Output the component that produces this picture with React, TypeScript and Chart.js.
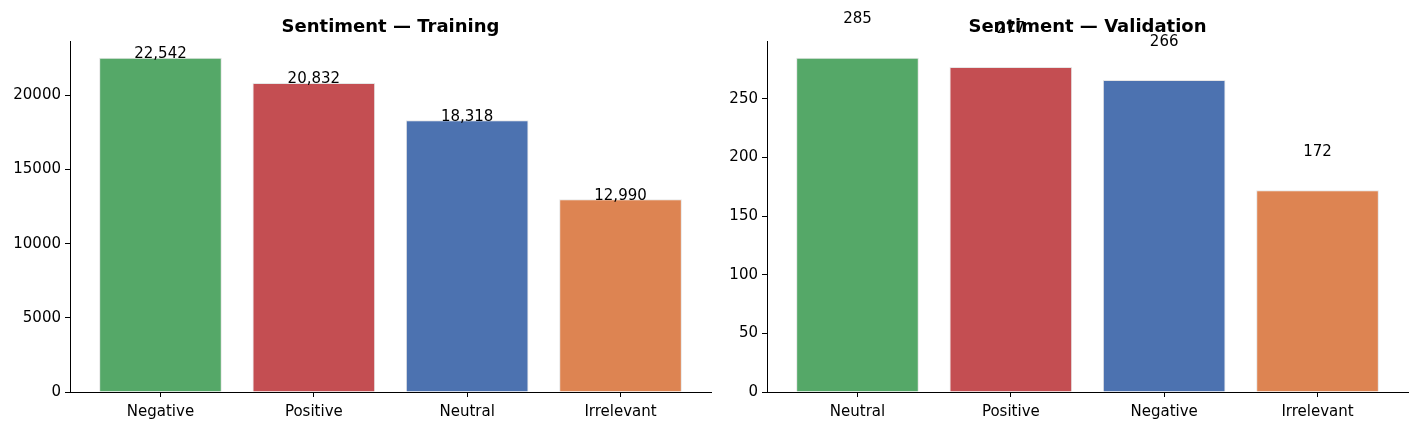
import React, { useEffect, useRef } from "react";
import { Chart, registerables } from "chart.js";

Chart.register(...registerables);

const trainCategories = ["Negative", "Positive", "Neutral", "Irrelevant"];
const trainValues = [22542, 20832, 18318, 12990];
const trainColors = ["#55A868", "#C44E52", "#4C72B0", "#DD8452"];
const trainYTicks = [0, 5000, 10000, 15000, 20000];

const valCategories = ["Neutral", "Positive", "Negative", "Irrelevant"];
const valValues = [285, 277, 266, 172];
const valColors = ["#55A868", "#C44E52", "#4C72B0", "#DD8452"];
const valYTicks = [0, 50, 100, 150, 200, 250];

const FONT = "'DejaVu Sans', sans-serif";

type PanelProps = {
  left: number;
  width: number;
  axisWidth: number;
  padRight: number;
  title: string;
  cats: string[];
  vals: number[];
  colors: string[];
  yMax: number;
  yTicks: number[];
  labelOffset: number;
  fmt: (v: number) => string;
};

function Panel(p: PanelProps) {
  const ref = useRef<HTMLCanvasElement | null>(null);
  useEffect(() => {
    if (!ref.current) return;
    const labelPlugin = {
      id: "labels",
      afterDraw(chart: any) {
        const ctx = chart.ctx;
        const xs = chart.scales.x;
        const ys = chart.scales.y;
        const ca = chart.chartArea;
        ctx.save();
        ctx.fillStyle = "#000";
        ctx.textAlign = "center";
        ctx.textBaseline = "alphabetic";
        ctx.font = `15px ${FONT}`;
        p.vals.forEach((v, i) => {
          const x = xs.getPixelForValue(i);
          const y = ys.getPixelForValue(v + p.labelOffset);
          ctx.fillText(p.fmt(v), x, y + 5.5);
        });
        ctx.font = `bold 18px ${FONT}`;
        ctx.fillText(p.title, (ca.left + ca.right) / 2, 32);
        ctx.restore();
      },
    };
    const chart = new Chart(ref.current, {
      type: "bar",
      data: {
        labels: p.cats,
        datasets: [
          {
            data: p.vals.map((v, i) => ({ x: i, y: v })) as any,
            backgroundColor: p.colors,
            borderColor: "#e6e6e6",
            borderWidth: 1,
            barPercentage: 0.8,
            categoryPercentage: 1,
          },
        ],
      },
      options: {
        responsive: false,
        maintainAspectRatio: false,
        animation: false,
        layout: { padding: { top: 41, right: p.padRight, left: 0, bottom: 0 } },
        plugins: {
          legend: { display: false },
          title: { display: false },
          tooltip: { enabled: false },
        },
        scales: {
          x: {
            type: "linear",
            min: -0.59,
            max: 3.59,
            offset: false,
            grid: {
              display: true,
              offset: false,
              drawOnChartArea: false,
              drawTicks: true,
              tickLength: 5,
              color: "#000",
              tickColor: "#000",
            },
            border: { display: true, color: "#000", width: 1 },
            ticks: {
              color: "#000",
              font: { family: FONT, size: 15 },
              padding: 6,
              autoSkip: false,
              maxRotation: 0,
              callback: (v: any) => p.cats[v] ?? "",
            },
            afterBuildTicks: (s: any) => {
              s.ticks = p.cats.map((_, i) => ({ value: i }));
            },
            afterFit: (s: any) => {
              s.height = 37;
            },
          } as any,
          y: {
            min: 0,
            max: p.yMax,
            grid: {
              display: true,
              offset: false,
              drawOnChartArea: false,
              drawTicks: true,
              tickLength: 5,
              color: "#000",
              tickColor: "#000",
            },
            border: { display: true, color: "#000", width: 1 },
            ticks: {
              color: "#000",
              font: { family: FONT, size: 15 },
              padding: 4,
              autoSkip: false,
              callback: (v: any) => String(v),
            },
            afterBuildTicks: (s: any) => {
              s.ticks = p.yTicks.map((v) => ({ value: v }));
            },
            afterFit: (s: any) => {
              s.width = p.axisWidth;
            },
          } as any,
        },
      },
      plugins: [labelPlugin],
    });
    return () => chart.destroy();
  }, []);
  return (
    <canvas
      ref={ref}
      width={p.width}
      height={429}
      style={{ position: "absolute", left: p.left, top: 0, width: p.width, height: 429, display: "block" }}
    />
  );
}

export default function App() {
  return (
    <div style={{ position: "fixed", left: 0, top: 0, width: 1418, height: 429, background: "#fff", overflow: "hidden" }}>
      <Panel
        left={0}
        width={712}
        axisWidth={70}
        padRight={1}
        title="Sentiment — Training"
        cats={trainCategories}
        vals={trainValues}
        colors={trainColors}
        yMax={23669}
        yTicks={trainYTicks}
        labelOffset={360}
        fmt={(v) => v.toLocaleString("en-US")}
      />
      <Panel
        left={712}
        width={706}
        axisWidth={55}
        padRight={10}
        title="Sentiment — Validation"
        cats={valCategories}
        vals={valValues}
        colors={valColors}
        yMax={299.25}
        yTicks={valYTicks}
        labelOffset={34}
        fmt={(v) => String(v)}
      />
    </div>
  );
}
